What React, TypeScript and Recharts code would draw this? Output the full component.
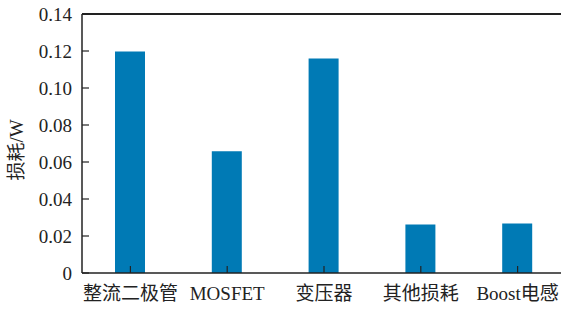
import { BarChart, Bar, XAxis, YAxis, ReferenceLine, Label } from "recharts";

const categories = ["整流二极管", "MOSFET", "变压器", "其他损耗", "Boost电感"];
const losses = [0.1197, 0.0658, 0.116, 0.0262, 0.0268];
const yTicks = [0, 0.02, 0.04, 0.06, 0.08, 0.1, 0.12, 0.14];

const data = categories.map((name, i) => ({ name, loss: losses[i] }));

const FONT = "'Liberation Serif', 'Noto Sans CJK SC', serif";

function YTick(props: any) {
  const { x, y, payload } = props;
  const v = payload.value as number;
  return (
    <g>
      <line x1={x} y1={y} x2={x + 7} y2={y} stroke="#222" strokeWidth={1.2} />
      <text x={x - 10} y={y} dy="0.35em" textAnchor="end" fontSize={19} fontFamily={FONT} fill="#222">
        {v === 0 ? "0" : v.toFixed(2)}
      </text>
    </g>
  );
}

function XTick(props: any) {
  const { x, y, payload } = props;
  return (
    <g>
      <line x1={x} y1={y} x2={x} y2={y - 7} stroke="#222" strokeWidth={1.2} />
      <text x={x} y={y + 27} textAnchor="middle" fontSize={19} fontFamily={FONT} fill="#222">
        {payload.value}
      </text>
    </g>
  );
}

export default function App() {
  return (
    <div
      style={{
        position: "fixed",
        left: 0,
        top: 0,
        width: 561,
        height: 309,
        overflow: "hidden",
        background: "#fff",
      }}
    >
      <BarChart
        width={566}
        height={309}
        data={data}
        margin={{ top: 14, right: 0, left: 0, bottom: 0 }}
        style={{ overflow: "visible" }}
      >
        <XAxis
          dataKey="name"
          height={36}
          tickSize={0}
          tickMargin={0}
          tickLine={false}
          tick={<XTick />}
          axisLine={{ stroke: "#222", strokeWidth: 1.5 }}
          interval={0}
        />
        <YAxis
          width={82}
          domain={[0, 0.14]}
          ticks={yTicks}
          tickSize={0}
          tickMargin={0}
          tickLine={false}
          tick={<YTick />}
          axisLine={{ stroke: "#222", strokeWidth: 1.5 }}
        >
          <Label
            position="insideLeft"
            content={() => (
              <text
                x={16}
                y={150}
                transform="rotate(-90, 16, 150)"
                textAnchor="middle"
                dominantBaseline="central"
                fontSize={19}
                fontFamily={FONT}
                fill="#222"
              >
                损耗/W
              </text>
            )}
          />
        </YAxis>
        <ReferenceLine y={0.14} stroke="#222" strokeWidth={2} />
        <Bar dataKey="loss" fill="#007ab5" barSize={30} isAnimationActive={false} />
      </BarChart>
    </div>
  );
}
